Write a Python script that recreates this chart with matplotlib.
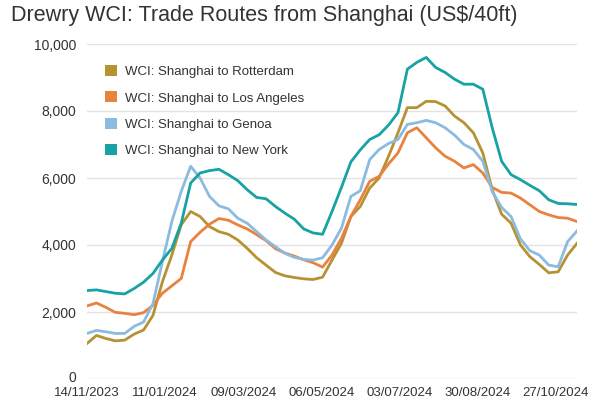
import matplotlib
matplotlib.use("Agg")
import matplotlib.pyplot as plt
import matplotlib.dates as mdates
from matplotlib.patches import Patch
from matplotlib.ticker import FuncFormatter
import matplotlib.transforms as mtransforms
import pandas as pd

plt.rcParams['font.family'] = ['Liberation Sans', 'DejaVu Sans']

dates = pd.date_range("2023-11-14", periods=53, freq="7D")

rotterdam = [1060, 1300, 1210, 1140, 1160, 1340, 1460, 1900, 2900, 3700,
             4600, 5000, 4850, 4550, 4400, 4320, 4150, 3900, 3620, 3400,
             3180, 3080, 3030, 2990, 2970, 3040, 3550, 4050, 4850, 5150,
             5700, 6000, 6650, 7350, 8100, 8100, 8290, 8280, 8150, 7850,
             7650, 7350, 6750, 5650, 4920, 4650, 4000, 3650, 3420, 3170,
             3200, 3700, 4050]
los_angeles = [2180, 2270, 2140, 1990, 1960, 1920, 1980, 2200, 2560, 2780,
               3000, 4100, 4380, 4620, 4790, 4740, 4600, 4480, 4310, 4130,
               3890, 3760, 3670, 3560, 3470, 3340, 3700, 4200, 4850, 5350,
               5900, 6050, 6420, 6750, 7350, 7500, 7200, 6900, 6650, 6500,
               6300, 6400, 6150, 5720, 5570, 5550, 5400, 5200, 5000, 4900,
               4820, 4800, 4700]
genoa = [1360, 1450, 1410, 1360, 1360, 1570, 1700, 2250, 3500, 4700,
         5600, 6350, 6000, 5450, 5170, 5080, 4800, 4650, 4400, 4150,
         3950, 3750, 3630, 3570, 3550, 3620, 4000, 4500, 5450, 5620,
         6550, 6850, 7030, 7150, 7600, 7650, 7720, 7650, 7500, 7280,
         7000, 6850, 6500, 5600, 5120, 4850, 4180, 3830, 3700, 3400,
         3350, 4100, 4420]
new_york = [2640, 2660, 2610, 2560, 2540, 2700, 2890, 3150, 3550, 3900,
            4650, 5850, 6150, 6220, 6260, 6100, 5920, 5650, 5420, 5380,
            5150, 4950, 4770, 4480, 4360, 4320, 5000, 5720, 6480, 6840,
            7150, 7290, 7580, 7950, 9250, 9450, 9600, 9300, 9150, 8950,
            8800, 8800, 8650, 7500, 6500, 6100, 5950, 5780, 5620, 5350,
            5240, 5230, 5210]

series_names = ["WCI: Shanghai to Rotterdam", "WCI: Shanghai to Los Angeles",
                "WCI: Shanghai to Genoa", "WCI: Shanghai to New York"]
colors = ["#B59233", "#E9823E", "#8CBBE0", "#17A2A4"]
tick_dates = ["2023-11-14", "2024-01-11", "2024-03-09", "2024-05-06",
              "2024-07-03", "2024-08-30", "2024-10-27"]
y_ticks = [0, 2000, 4000, 6000, 8000, 10000]

fig = plt.figure(figsize=(6, 4), dpi=100)
ax = fig.add_axes([0.145, 0.0525, 0.8167, 0.8375])

for vals, c in zip([rotterdam, los_angeles, genoa, new_york], colors):
    ax.plot(dates, vals, color=c, lw=2.0, solid_joinstyle='round')

ax.set_ylim(0, 10000)
ax.set_xlim(pd.Timestamp("2023-11-14"), pd.Timestamp("2024-11-12"))
ax.set_yticks(y_ticks)
ax.yaxis.set_major_formatter(FuncFormatter(lambda v, p: f"{int(v):,}"))
ax.set_xticks([pd.Timestamp(d) for d in tick_dates])
ax.xaxis.set_major_formatter(mdates.DateFormatter("%d/%m/%Y"))
ax.grid(axis='y', color='#E3E3E3', lw=1)
ax.set_axisbelow(True)
for s in ax.spines.values():
    s.set_visible(False)
ax.tick_params(axis='both', length=0, colors='#333333')
ax.tick_params(axis='y', pad=8, labelsize=10)
ax.tick_params(axis='x', pad=6, labelsize=9.5)

# nudge the "0" label up slightly so it does not touch the first date label
zero_lbl = ax.get_yticklabels()[0]
zero_lbl.set_transform(zero_lbl.get_transform() +
                       mtransforms.ScaledTranslation(0, 2 / 72, fig.dpi_scale_trans))

handles = [Patch(facecolor=c, edgecolor='none') for c in colors]
fig.legend(handles, series_names, loc='upper left', bbox_to_anchor=(0.167, 0.85),
           frameon=False, fontsize=9.5, handlelength=0.9, handleheight=0.9,
           handletextpad=0.6, labelspacing=1.0, labelcolor='#333333',
           borderaxespad=0)

fig.text(0.018, 0.962, "Drewry WCI: Trade Routes from Shanghai (US$/40ft)",
         fontsize=15.5, color='#333333', va='center', ha='left')

fig.savefig("out.png", dpi=100)
